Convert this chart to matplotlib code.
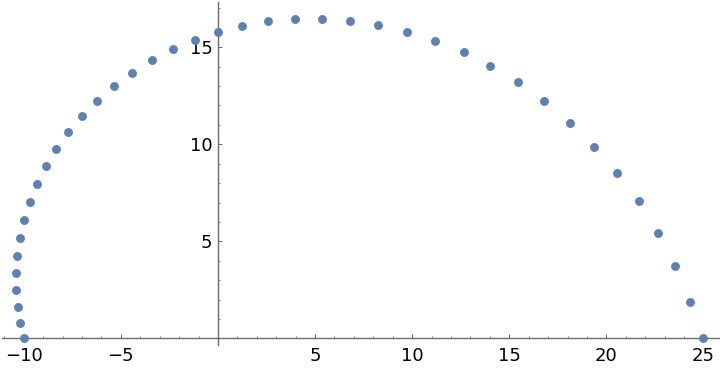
import matplotlib
matplotlib.use('Agg')
import matplotlib.pyplot as plt
from matplotlib.ticker import MultipleLocator, FixedLocator

# points (x, y)
x_vals = [-10.0, -10.19, -10.29, -10.41, -10.41, -10.36, -10.21, -10.0, -9.68, -9.32,
          -8.85, -8.34, -7.74, -7.02, -6.24, -5.37, -4.43, -3.40, -2.34, -1.19, -0.02,
          1.26, 2.60, 3.96, 5.34, 6.78, 8.22, 9.72, 11.16, 12.65,
          14.02, 15.46, 16.80, 18.14, 19.37, 20.56, 21.69, 22.66, 23.55, 24.31, 25.0]
y_vals = [0.0, 0.80, 1.63, 2.51, 3.37, 4.24, 5.17, 6.10, 7.03, 7.95,
          8.90, 9.77, 10.63, 11.47, 12.25, 13.0, 13.69, 14.36, 14.93, 15.39, 15.80,
          16.11, 16.37, 16.47, 16.47, 16.37, 16.16, 15.80, 15.34, 14.77,
          14.05, 13.23, 12.25, 11.11, 9.88, 8.54, 7.08, 5.44, 3.73, 1.89, 0.0]

x_ticks = [-10, -5, 5, 10, 15, 20, 25]
y_ticks = [5, 10, 15]

fig = plt.figure(figsize=(7.2, 3.7), dpi=100)
ax = fig.add_axes([2 / 720, 0.0673, 718 / 720, 0.9281])

ax.plot(x_vals, y_vals, 'o', color='#5E81B5', markersize=6.4,
        markeredgewidth=0, zorder=3, clip_on=False)

ax.set_xlim(-11.12, 25.85)
ax.set_ylim(-0.35, 17.35)

for s in ['top', 'right']:
    ax.spines[s].set_visible(False)
ax.spines['left'].set_position(('data', 0))
ax.spines['bottom'].set_position(('data', 0))
for s in ['left', 'bottom']:
    ax.spines[s].set_color('#6b6b6b')
    ax.spines[s].set_linewidth(1.0)

ax.xaxis.set_major_locator(FixedLocator(x_ticks))
ax.yaxis.set_major_locator(FixedLocator(y_ticks))
ax.xaxis.set_minor_locator(MultipleLocator(1))
ax.yaxis.set_minor_locator(MultipleLocator(1))

ax.tick_params(which='both', direction='in', colors='#6b6b6b', labelcolor='black')
ax.tick_params(which='major', length=3.0, width=0.8, labelsize=13)
ax.tick_params(which='minor', length=1.6, width=0.6)
ax.tick_params(axis='x', which='major', pad=6)
ax.tick_params(axis='y', which='major', pad=4)

ax.set_facecolor('white')
fig.savefig('out.png', dpi=100, facecolor='white')
